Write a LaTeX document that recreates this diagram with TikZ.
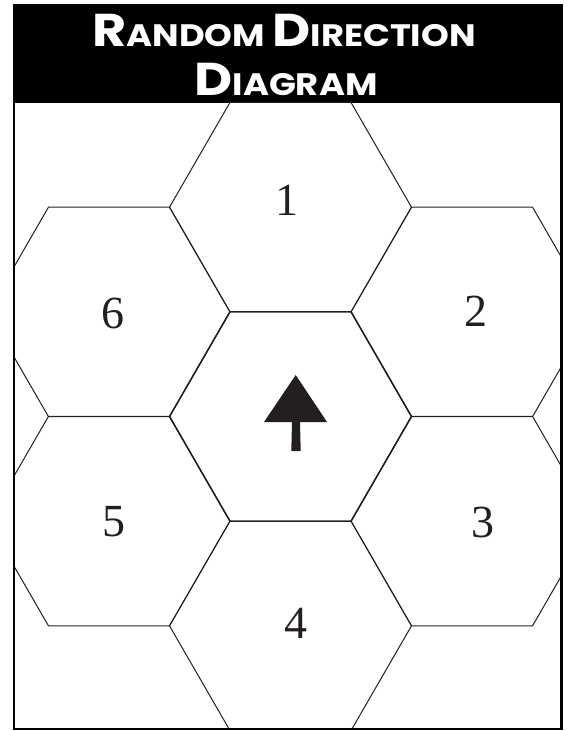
\documentclass[tikz,border=0pt]{standalone}
\usepackage{fontspec}
\usepackage{xcolor}
\usepackage{tikz}
\usetikzlibrary{calc}
\newfontfamily\titlefont{Poppins}
\newfontfamily\digitfont{Liberation Serif}
\definecolor{hexline}{HTML}{231F20}
\definecolor{bandblack}{HTML}{000000}
\newcommand{\capbig}[1]{{\fontsize{46}{46}\selectfont #1}}

\begin{document}
\begin{tikzpicture}[x=1pt, y=-1pt,
    hexedge/.style={hexline, line width=1pt, line join=miter},
    hexlabel/.style={font=\fontsize{46}{46}\digitfont, text=hexline, inner sep=0pt},
    titleline/.style={font=\fontsize{31}{31}\titlefont\bfseries, text=white, inner sep=0pt,
                      anchor=base, xscale=1.14, transform shape}]
  \useasboundingbox (0,0) rectangle (566,731);

  %% Title band
  \fill[bandblack] (12.5,4) rectangle (562.5,103);
  \node[titleline] (title1) at (284,46) {\capbig{R}ANDOM \capbig{D}IRECTION};
  \node[titleline] (title2) at (286,95) {\capbig{D}IAGRAM};

  %% Hex grid: (name, centre x, centre y)
  \begin{scope}
    \clip (13.75,5.25) rectangle (561.25,728.75);
    \foreach \h/\cx/\cy in {h0/290.5/416.5, h1/290.5/207.2, h2/472/311.9,
                            h3/472/521.1, h4/290.5/625.8, h5/109/521.1, h6/109/311.9} {
      \coordinate (\h) at (\cx,\cy);
      \draw[hexedge] (\h) +(0:121) -- +(60:121) -- +(120:121) -- +(180:121)
        -- +(240:121) -- +(300:121) -- cycle;
    }
    \draw[hexedge, line width=1.4pt] (h0) +(0:121) -- +(60:121) -- +(120:121)
      -- +(180:121) -- +(240:121) -- +(300:121) -- cycle;
  \end{scope}

  %% Numbers
  \foreach \n/\x/\y in {1/287/200, 2/476/311, 3/483/522, 4/296/623, 5/114/522, 6/113/313} {
    \node[hexlabel] (n\n) at (\x,\y) {\n};
  }

  %% Arrow in the centre hex
  \fill[hexline] (264,422) -- (295.7,375) -- (327,422) -- cycle;
  \fill[hexline] (292,421) -- (300,421) -- (300.7,451) -- (291.3,451) -- cycle;

  %% Frame
  \draw[bandblack, line width=2.5pt] (13.75,5.25) rectangle (561.25,728.75);
\end{tikzpicture}
\end{document}
